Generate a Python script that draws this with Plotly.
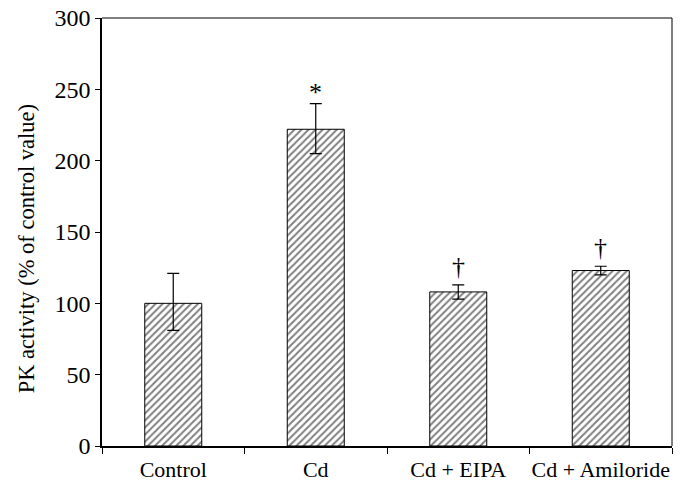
import plotly.graph_objects as go

categories = ["Control", "Cd", "Cd + EIPA", "Cd + Amiloride"]
values = [100, 222, 108, 123]
err_plus = [21, 18, 5, 3]
err_minus = [19, 17, 5, 3]
marks = ["", "*", "†", "†"]
y_ticks = [0, 50, 100, 150, 200, 250, 300]

FONT = "Liberation Serif"

fig = go.Figure()
fig.add_trace(go.Bar(
    x=categories, y=values,
    marker=dict(color="white",
                line=dict(color="black", width=1),
                pattern=dict(shape="/", fgcolor="black", bgcolor="white",
                             size=5, solidity=0.4)),
    error_y=dict(type="data", array=err_plus, arrayminus=err_minus,
                 color="black", thickness=1.2, width=6),
    showlegend=False,
))

for c, v, e, m in zip(categories, values, err_plus, marks):
    if m:
        fig.add_annotation(x=c, y=v + e, text=m, showarrow=False,
                           yanchor="bottom", yshift=-5 if m == "*" else 2,
                           font=dict(family=FONT, size=26, color="black"))

fig.add_annotation(xref="paper", yref="paper", x=-0.133, y=0.46,
                   text="PK activity (% of control value)", textangle=-90,
                   showarrow=False, xanchor="center", yanchor="middle",
                   font=dict(family=FONT, size=22.5, color="black"))

fig.update_layout(
    width=684, height=481,
    margin=dict(l=102, r=12, t=18, b=35, autoexpand=False),
    paper_bgcolor="white", plot_bgcolor="white",
    font=dict(family=FONT, size=22, color="black"),
    bargap=0.6,
    xaxis=dict(type="category", range=[-0.5, 3.5], showline=True,
               linecolor="black", linewidth=1.5, mirror=False, automargin=False,
               ticks="outside", tickson="boundaries", ticklen=6,
               tickcolor="black", tickfont=dict(family=FONT, size=22),
               tickangle=0, ticklabelstandoff=3,
               ticklabeloverflow="allow"),
    yaxis=dict(range=[0, 300], tickvals=y_ticks, showline=True, automargin=False,
               linecolor="black", linewidth=1.5, ticks="outside",
               ticklen=5, tickcolor="black", showgrid=False, zeroline=False,
               tickfont=dict(family=FONT, size=24), ticklabeloverflow="allow"),
)
fig.add_shape(type="line", xref="paper", yref="paper", x0=0, x1=1, y0=1, y1=1,
              line=dict(color="black", width=1))
fig.add_shape(type="line", xref="paper", yref="paper", x0=1, x1=1, y0=0, y1=1,
              line=dict(color="black", width=1))

# remove the browser's default 8px body margin so the figure fills the window
fig.write_html("out.html", config={"displayModeBar": False},
               post_script="document.body.style.margin='0px';")
